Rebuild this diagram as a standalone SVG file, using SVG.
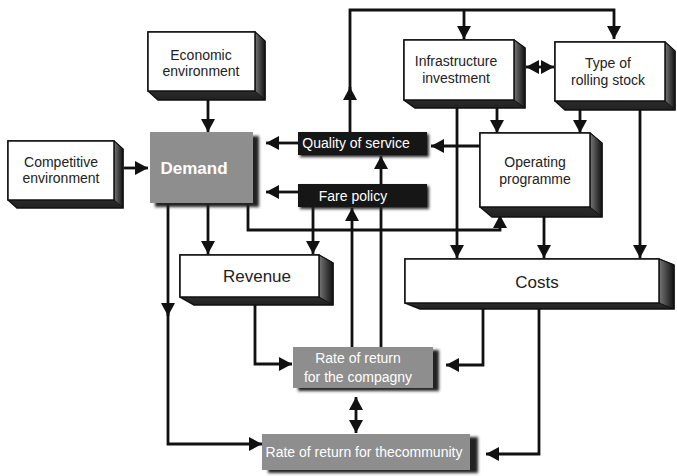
<svg xmlns="http://www.w3.org/2000/svg" width="677" height="476" viewBox="0 0 677 476">
<defs>
  <linearGradient id="side" x1="0" y1="0" x2="1" y2="0"><stop offset="0" stop-color="#777"/><stop offset="1" stop-color="#111"/></linearGradient>
  <linearGradient id="bottom" x1="0" y1="0" x2="0" y2="1"><stop offset="0" stop-color="#666"/><stop offset="1" stop-color="#222"/></linearGradient>
  <marker id="ah" viewBox="0 0 13 14" markerWidth="13" markerHeight="14" refX="13" refY="7" orient="auto-start-reverse" markerUnits="userSpaceOnUse"><path d="M0,0 L13,7 L0,14 z" fill="#111"/></marker>
  <filter id="sh" x="-20%" y="-20%" width="140%" height="160%"><feGaussianBlur stdDeviation="1.6"/></filter>
</defs>
<style>
  .c{fill:none;stroke:#111;stroke-width:2.8}
  .a{marker-end:url(#ah)}
  .d{marker-start:url(#ah);marker-end:url(#ah)}
  .front{fill:#fff;stroke:#111;stroke-width:1.5}
  .depth{fill:url(#bottom);stroke:#111;stroke-width:1.5}
  .rs{fill:url(#side);stroke:#111;stroke-width:1}
  .t{font-family:"Liberation Sans",Arial,sans-serif;font-size:14px;fill:#222;text-anchor:middle}
  .w{fill:#fff}
  .big{font-size:17px}
  .gray{fill:#8e8e8e}
  .blk{fill:#161616}
  .shd{fill:#222;filter:url(#sh)}
</style>
<rect width="677" height="476" fill="#fff"/>
<g id="connectors">
  <path class="c a" d="M208,100 V132"/>
  <path class="c a" d="M124,168 H148"/>
  <path class="c a" d="M298,143 H266"/>
  <path class="c a" d="M298,192 H266"/>
  <path class="c a" d="M480,146 H431"/>
  <path class="c a" d="M350,132 V87"/>
  <path class="c a" d="M350,90 V10 H614 V39"/>
  <path class="c a" d="M464,10 V39"/>
  <path class="c d" d="M526,67 H554"/>
  <path class="c a" d="M497,108 V133"/>
  <path class="c a" d="M580,110 V133"/>
  <path class="c a" d="M457,108 V258"/>
  <path class="c a" d="M640,110 V258"/>
  <path class="c a" d="M544,217 V258"/>
  <path class="c a" d="M248,203 V230 H500 V215"/>
  <path class="c a" d="M208,203 V254"/>
  <path class="c a" d="M313,207 V254"/>
  <path class="c a" d="M168,203 V316"/>
  <path class="c a" d="M168,312 V444 H262"/>
  <path class="c a" d="M255,305 V364 H292"/>
  <path class="c a" d="M352,347 V208"/>
  <path class="c a" d="M381,347 V156"/>
  <path class="c a" d="M483,309 V365 H446"/>
  <path class="c a" d="M539,309 V454 H486"/>
  <path class="c d" d="M356,397 V433"/>
</g>
<g id="economic">
  <polygon class="depth" points="148,32 255,32 265,41 265,100 158,100 148,91"/>
  <polygon class="rs" points="255,32 265,41 265,100 255,91"/>
  <rect class="front" x="148" y="32" width="107" height="59"/>
  <text class="t" x="201" y="60">Economic</text>
  <text class="t" x="201" y="76">environment</text>
</g>
<g id="competitive">
  <polygon class="depth" points="8,141 114,141 123,149 123,208 17,208 8,200"/>
  <polygon class="rs" points="114,141 123,149 123,208 114,200"/>
  <rect class="front" x="8" y="141" width="106" height="59"/>
  <text class="t" x="61" y="167">Competitive</text>
  <text class="t" x="61" y="183">environment</text>
</g>
<g id="demand">
  <rect class="shd" x="155" y="136" width="104" height="71"/>
  <rect class="gray" x="150" y="132" width="103" height="71"/>
  <text class="t w big" x="194" y="174" font-weight="bold">Demand</text>
</g>
<g id="quality">
  <rect class="shd" x="300" y="134" width="129" height="23"/>
  <rect class="blk" x="298" y="132" width="129" height="23"/>
  <text class="t w" x="356" y="148">Quality of service</text>
</g>
<g id="fare">
  <rect class="shd" x="300" y="186" width="129" height="23"/>
  <rect class="blk" x="298" y="184" width="129" height="23"/>
  <text class="t w" x="353" y="201">Fare policy</text>
</g>
<g id="infrastructure">
  <polygon class="depth" points="404,40 514,40 525,48 525,108 415,108 404,100"/>
  <polygon class="rs" points="514,40 525,48 525,108 514,100"/>
  <rect class="front" x="404" y="40" width="110" height="60"/>
  <text class="t" x="456" y="66">Infrastructure</text>
  <text class="t" x="456" y="83">investment</text>
</g>
<g id="rolling">
  <polygon class="depth" points="555,42 665,42 675,51 675,110 565,110 555,101"/>
  <polygon class="rs" points="665,42 675,51 675,110 665,101"/>
  <rect class="front" x="555" y="42" width="110" height="59"/>
  <text class="t" x="608" y="68">Type of</text>
  <text class="t" x="608" y="85">rolling stock</text>
</g>
<g id="operating">
  <polygon class="depth" points="480,133 590,133 602,143 602,217 492,217 480,207"/>
  <polygon class="rs" points="590,133 602,143 602,217 590,207"/>
  <rect class="front" x="480" y="133" width="110" height="74"/>
  <text class="t" x="535" y="167">Operating</text>
  <text class="t" x="535" y="184">programme</text>
</g>
<g id="revenue">
  <polygon class="depth" points="180,255 319,255 333,263 333,305 194,305 180,297"/>
  <polygon class="rs" points="319,255 333,263 333,305 319,297"/>
  <rect class="front" x="180" y="255" width="139" height="42"/>
  <text class="t big" x="257" y="282">Revenue</text>
</g>
<g id="costs">
  <polygon class="depth" points="405,259 659,259 674,265 674,309 420,309 405,303"/>
  <polygon class="rs" points="659,259 674,265 674,309 659,303"/>
  <rect class="front" x="405" y="259" width="254" height="44"/>
  <text class="t big" x="537" y="288">Costs</text>
</g>
<g id="rate-company">
  <rect class="shd" x="298" y="350" width="141" height="41"/>
  <rect class="gray" x="293" y="347" width="140" height="41"/>
  <text class="t w" x="358" y="363">Rate of return</text>
  <text class="t w" x="358" y="382">for the compagny</text>
</g>
<g id="rate-community">
  <rect class="shd" x="268" y="437" width="210" height="36"/>
  <rect class="gray" x="262" y="434" width="208" height="36"/>
  <text class="t w" x="364" y="457">Rate of return for thecommunity</text>
</g>
</svg>
